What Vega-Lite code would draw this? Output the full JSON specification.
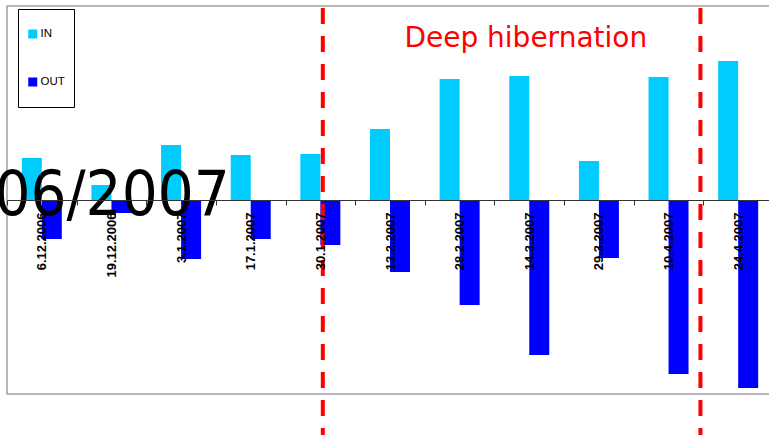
{
  "$schema": "https://vega.github.io/schema/vega-lite/v6.json",
  "width": 766,
  "height": 388,
  "autosize": {"type": "none"},
  "padding": {"left": 7, "top": 6, "right": -4, "bottom": 41},
  "background": "white",
  "config": {"view": {"stroke": "#a0a0a0", "strokeWidth": 1.5}},
  "datasets": {
    "bars": [
      {"date": "6.12.2006", "series": "IN", "value": 42},
      {"date": "6.12.2006", "series": "OUT", "value": -39},
      {"date": "19.12.2006", "series": "IN", "value": 15},
      {"date": "19.12.2006", "series": "OUT", "value": -13},
      {"date": "3.1.2007", "series": "IN", "value": 55},
      {"date": "3.1.2007", "series": "OUT", "value": -59},
      {"date": "17.1.2007", "series": "IN", "value": 45},
      {"date": "17.1.2007", "series": "OUT", "value": -39},
      {"date": "30.1.2007", "series": "IN", "value": 46},
      {"date": "30.1.2007", "series": "OUT", "value": -45},
      {"date": "13.2.2007", "series": "IN", "value": 71},
      {"date": "13.2.2007", "series": "OUT", "value": -72},
      {"date": "28.2.2007", "series": "IN", "value": 121},
      {"date": "28.2.2007", "series": "OUT", "value": -105},
      {"date": "14.3.2007", "series": "IN", "value": 124},
      {"date": "14.3.2007", "series": "OUT", "value": -155},
      {"date": "29.3.2007", "series": "IN", "value": 39},
      {"date": "29.3.2007", "series": "OUT", "value": -58},
      {"date": "10.4.2007", "series": "IN", "value": 123},
      {"date": "10.4.2007", "series": "OUT", "value": -174},
      {"date": "24.4.2007", "series": "IN", "value": 139},
      {"date": "24.4.2007", "series": "OUT", "value": -188}
    ]
  },
  "layer": [
    {
      "data": {"name": "bars"},
      "mark": {"type": "bar"},
      "encoding": {
        "x": {
          "field": "date",
          "type": "nominal",
          "scale": {
            "domain": ["6.12.2006", "19.12.2006", "3.1.2007", "17.1.2007", "30.1.2007", "13.2.2007", "28.2.2007", "14.3.2007", "29.3.2007", "10.4.2007", "24.4.2007"],
            "paddingInner": 0,
            "paddingOuter": 0
          },
          "axis": {
            "orient": "bottom",
            "offset": -194,
            "title": null,
            "labelAngle": -90,
            "labelFont": "Liberation Sans",
            "labelFontSize": 13,
            "labelFontWeight": "bold",
            "labelColor": "#000000",
            "labelPadding": 7,
            "labelOverlap": false,
            "labelBound": false,
            "labelFlush": false,
            "tickBand": "extent",
            "tickSize": 5,
            "tickColor": "#333333",
            "domainColor": "#333333",
            "domainWidth": 1,
            "grid": false,
            "zindex": 1
          }
        },
        "xOffset": {
          "field": "series",
          "type": "nominal",
          "sort": ["IN", "OUT"],
          "scale": {"paddingInner": 0, "paddingOuter": 0.741}
        },
        "y": {
          "field": "value",
          "type": "quantitative",
          "scale": {"domain": [-194, 194], "nice": false},
          "axis": null
        },
        "color": {
          "field": "series",
          "type": "nominal",
          "scale": {"domain": ["IN", "OUT"], "range": ["#00CCFF", "#0000FF"]},
          "legend": {
            "title": null,
            "orient": "none",
            "legendX": 11,
            "legendY": 3,
            "padding": 9,
            "strokeColor": "#000000",
            "fillColor": "#ffffff",
            "symbolType": "square",
            "symbolSize": 81,
            "symbolStrokeWidth": 0,
            "labelFont": "Liberation Sans",
            "labelFontSize": 11.5,
            "labelColor": "#000000",
            "labelOffset": 2,
            "clipHeight": 32,
            "rowPadding": 16,
            "labelLimit": 100
          }
        }
      }
    },
    {
      "data": {"values": [{"date": "30.1.2007"}]},
      "mark": {"type": "rule", "color": "#ff0000", "strokeWidth": 4, "strokeDash": [16, 12]},
      "encoding": {
        "x": {"field": "date", "type": "nominal", "bandPosition": 0.535},
        "y": {"datum": 192},
        "y2": {"datum": -235}
      }
    },
    {
      "data": {"values": [{"date": "10.4.2007"}]},
      "mark": {"type": "rule", "color": "#ff0000", "strokeWidth": 4, "strokeDash": [16, 12]},
      "encoding": {
        "x": {"field": "date", "type": "nominal", "bandPosition": 0.958},
        "y": {"datum": 192},
        "y2": {"datum": -235}
      }
    },
    {
      "data": {"values": [{"date": "14.3.2007", "label": "Deep hibernation"}]},
      "mark": {"type": "text", "font": "DejaVu Sans", "fontSize": 28, "color": "#ff0000", "align": "center", "baseline": "alphabetic"},
      "encoding": {
        "x": {"field": "date", "type": "nominal", "bandPosition": 0.45},
        "y": {"datum": 152.7},
        "text": {"field": "label"}
      }
    },
    {
      "data": {"values": [{"date": "17.1.2007", "label": "2006/2007"}]},
      "mark": {"type": "text", "font": "DejaVu Sans Condensed", "fontSize": 63, "color": "#000000", "align": "right", "baseline": "alphabetic"},
      "encoding": {
        "x": {"field": "date", "type": "nominal", "bandPosition": 0.2},
        "y": {"datum": -14.5},
        "text": {"field": "label"}
      }
    }
  ]
}
